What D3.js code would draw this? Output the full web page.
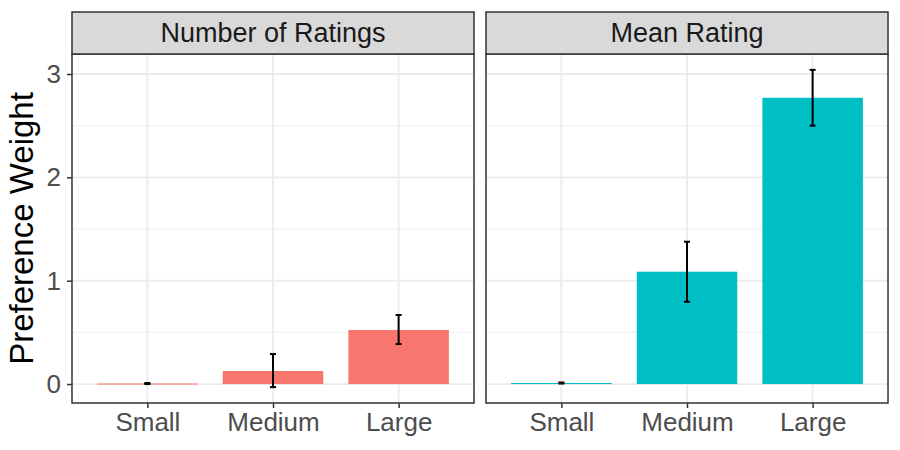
<!DOCTYPE html>
<html>
<head>
<meta charset="utf-8">
<script src="https://cdn.jsdelivr.net/npm/d3@7"></script>
<style>
  body { margin: 0; background: #fff; }
  text { font-family: "Liberation Sans", Arial, Helvetica, sans-serif; }
</style>
</head>
<body>
<div id="chart"></div>
<script>
const categories = ["Small", "Medium", "Large"];
const facets = ["Number of Ratings", "Mean Rating"];
const facetColors = ["#F8766D", "#00BFC4"];

// Preference weights with error bar bounds, per facet
const countMean = [0.005, 0.126, 0.523];
const countLow = [0.0, -0.03, 0.387];
const countHigh = [0.01, 0.29, 0.668];

const meanMean = [0.01, 1.087, 2.77];
const meanLow = [0.005, 0.796, 2.50];
const meanHigh = [0.015, 1.377, 3.04];

const yTicks = [0, 1, 2, 3];
const yMinor = [0.5, 1.5, 2.5];

const width = 900, height = 450;
const panelTop = 54, panelBottom = 403;
const stripTop = 12;
const panelsX = [[72, 474], [486, 888]];

const panelData = [
  categories.map((c, i) => ({ cat: c, value: countMean[i], lo: countLow[i], hi: countHigh[i] })),
  categories.map((c, i) => ({ cat: c, value: meanMean[i], lo: meanLow[i], hi: meanHigh[i] }))
];

const svg = d3.select('#chart')
  .append('svg')
    .attr('width', width)
    .attr('height', height)
    .attr('viewBox', [0, 0, width, height]);

// shared y scale, ggplot-style 5% expansion
const allLo = d3.min(panelData.flat(), d => Math.min(d.lo, 0));
const allHi = d3.max(panelData.flat(), d => d.hi);
const pad = (allHi - allLo) * 0.05;
const y = d3.scaleLinear()
  .domain([allLo - pad, allHi + pad])
  .range([panelBottom, panelTop]);

facets.forEach((name, p) => {
  const [x0, x1] = panelsX[p];
  const x = d3.scalePoint()
    .domain(categories)
    .range([x0, x1])
    .padding(0.6);
  const barW = x.step() * 0.8;
  const g = svg.append('g');

  // grid
  g.selectAll('.minor')
    .data(yMinor)
    .join('line')
      .attr('x1', x0).attr('x2', x1)
      .attr('y1', d => y(d)).attr('y2', d => y(d))
      .attr('stroke', '#EBEBEB')
      .attr('stroke-width', 0.9);
  g.selectAll('.major-y')
    .data(yTicks)
    .join('line')
      .attr('x1', x0).attr('x2', x1)
      .attr('y1', d => y(d)).attr('y2', d => y(d))
      .attr('stroke', '#EBEBEB')
      .attr('stroke-width', 1.8);
  g.append('g').selectAll('line')
    .data(categories)
    .join('line')
      .attr('x1', d => x(d)).attr('x2', d => x(d))
      .attr('y1', panelTop).attr('y2', panelBottom)
      .attr('stroke', '#EBEBEB')
      .attr('stroke-width', 1.8);

  // bars
  g.append('g').selectAll('rect')
    .data(panelData[p])
    .join('rect')
      .attr('x', d => x(d.cat) - barW / 2)
      .attr('width', barW)
      .attr('y', d => y(Math.max(d.value, 0)))
      .attr('height', d => Math.max(Math.abs(y(0) - y(d.value)), 1))
      .attr('fill', facetColors[p]);

  // error bars
  const capW = 6;
  const eb = g.append('g').selectAll('g')
    .data(panelData[p])
    .join('g')
      .attr('stroke', '#000')
      .attr('stroke-width', 2);
  eb.append('line')
    .attr('x1', d => x(d.cat)).attr('x2', d => x(d.cat))
    .attr('y1', d => y(d.lo)).attr('y2', d => y(d.hi));
  eb.append('line')
    .attr('x1', d => x(d.cat) - capW / 2).attr('x2', d => x(d.cat) + capW / 2)
    .attr('y1', d => y(d.lo)).attr('y2', d => y(d.lo));
  eb.append('line')
    .attr('x1', d => x(d.cat) - capW / 2).attr('x2', d => x(d.cat) + capW / 2)
    .attr('y1', d => y(d.hi)).attr('y2', d => y(d.hi));

  // panel border
  g.append('rect')
    .attr('x', x0).attr('y', panelTop)
    .attr('width', x1 - x0).attr('height', panelBottom - panelTop)
    .attr('fill', 'none')
    .attr('stroke', '#333333')
    .attr('stroke-width', 1.5);

  // strip
  g.append('rect')
    .attr('x', x0).attr('y', stripTop)
    .attr('width', x1 - x0).attr('height', panelTop - stripTop)
    .attr('fill', '#D9D9D9')
    .attr('stroke', '#333333')
    .attr('stroke-width', 1.5);
  g.append('text')
    .attr('x', (x0 + x1) / 2)
    .attr('y', (stripTop + panelTop) / 2)
    .attr('dy', '0.35em')
    .attr('text-anchor', 'middle')
    .attr('fill', '#1A1A1A')
    .style('font-size', '27px')
    .text(name);

  // x axis
  const xAxis = g.append('g')
    .attr('transform', `translate(0,${panelBottom})`)
    .call(d3.axisBottom(x).tickSize(5).tickPadding(5));
  xAxis.select('.domain').remove();
  xAxis.selectAll('line').attr('stroke', '#333333').attr('stroke-width', 1.5);
  xAxis.selectAll('text')
    .attr('fill', '#4D4D4D')
    .style('font-size', '26px');

  // y axis only on first panel
  if (p === 0) {
    const yAxis = g.append('g')
      .attr('transform', `translate(${x0},0)`)
      .call(d3.axisLeft(y).tickValues(yTicks).tickFormat(d3.format('d')).tickSize(5).tickPadding(6));
    yAxis.select('.domain').remove();
    yAxis.selectAll('line').attr('stroke', '#333333').attr('stroke-width', 1.5);
    yAxis.selectAll('text')
      .attr('fill', '#4D4D4D')
      .style('font-size', '26px');
  }
});

svg.append('text')
  .attr('transform', `translate(33,${(panelTop + panelBottom) / 2}) rotate(-90)`)
  .attr('text-anchor', 'middle')
  .attr('fill', '#000')
  .style('font-size', '33px')
  .text('Preference Weight');
</script>
</body>
</html>
